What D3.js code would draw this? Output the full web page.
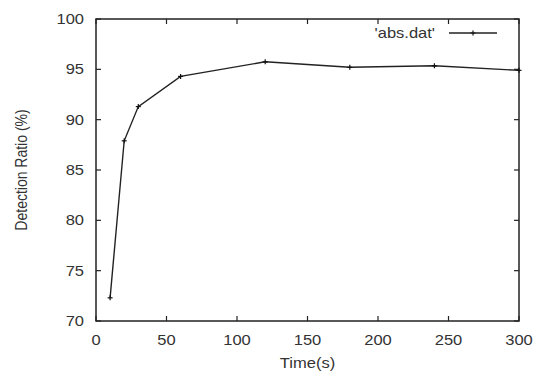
<!DOCTYPE html>
<html>
<head>
<meta charset="utf-8">
<script src="https://cdn.jsdelivr.net/npm/d3@7"></script>
<style>
  body { margin: 0; background: #fff; }
  text { font-family: "Liberation Sans", Arial, sans-serif; fill: #333; }
</style>
</head>
<body>
<svg id="chart" width="536" height="373"></svg>
<script>
// data
const times = [10, 20, 30, 60, 120, 180, 240, 300];
const ratios = [72.3, 87.9, 91.3, 94.3, 95.75, 95.2, 95.35, 94.9];
const xTicks = [0, 50, 100, 150, 200, 250, 300];
const yTicks = [70, 75, 80, 85, 90, 95, 100];
const seriesName = "'abs.dat'";

const svg = d3.select('#chart');
const pl = 96, pr = 519, pt = 19, pb = 321;
const sx = 1.18; // text in the picture is a bit wide

const x = d3.scaleLinear().domain([0, 300]).range([pl, pr]);
const y = d3.scaleLinear().domain([70, 100]).range([pb, pt]);

// ticks (inside, mirrored)
const tk = 5;
const g = svg.append('g').attr('stroke', '#222').attr('stroke-width', 1.2);
xTicks.forEach(v => {
  g.append('line').attr('x1', x(v)).attr('x2', x(v)).attr('y1', pb).attr('y2', pb - tk);
  g.append('line').attr('x1', x(v)).attr('x2', x(v)).attr('y1', pt).attr('y2', pt + tk);
});
yTicks.forEach(v => {
  g.append('line').attr('x1', pl).attr('x2', pl + tk).attr('y1', y(v)).attr('y2', y(v));
  g.append('line').attr('x1', pr).attr('x2', pr - tk).attr('y1', y(v)).attr('y2', y(v));
});

svg.append('rect')
  .attr('x', pl).attr('y', pt)
  .attr('width', pr - pl).attr('height', pb - pt)
  .attr('fill', 'none').attr('stroke', '#222').attr('stroke-width', 1.5);

// tick labels
svg.append('g').selectAll('text').data(xTicks).enter().append('text')
  .attr('transform', d => `translate(${x(d)},${pb + 24}) scale(${sx},1)`)
  .attr('text-anchor', 'middle').style('font-size', '14px')
  .text(d => d);

svg.append('g').selectAll('text').data(yTicks).enter().append('text')
  .attr('transform', d => `translate(${pl - 12},${y(d) + 5}) scale(${sx},1)`)
  .attr('text-anchor', 'end').style('font-size', '14px')
  .text(d => d);

// axis titles
svg.append('text')
  .attr('transform', `translate(${(pl + pr) / 2},368) scale(${sx},1)`)
  .attr('text-anchor', 'middle').style('font-size', '14px')
  .text('Time(s)');

svg.append('text')
  .attr('transform', `translate(27,${(pt + pb) / 2}) rotate(-90) scale(1,${sx})`)
  .attr('text-anchor', 'middle').style('font-size', '14px')
  .text('Detection Ratio (%)');

// series
const pts = times.map((t, i) => [t, ratios[i]]);
const line = d3.line().x(d => x(d[0])).y(d => y(d[1]));
svg.append('path').datum(pts)
  .attr('d', line).attr('fill', 'none')
  .attr('stroke', '#222').attr('stroke-width', 1.4);

const pm = 2.5;
const marks = svg.append('g').attr('stroke', '#111').attr('stroke-width', 1.2);
pts.forEach(d => {
  marks.append('line').attr('x1', x(d[0]) - pm).attr('x2', x(d[0]) + pm).attr('y1', y(d[1])).attr('y2', y(d[1]));
  marks.append('line').attr('x1', x(d[0])).attr('x2', x(d[0])).attr('y1', y(d[1]) - pm).attr('y2', y(d[1]) + pm);
});

// legend
const ly = 33;
svg.append('text')
  .attr('transform', `translate(435,${ly + 5}) scale(${sx},1)`)
  .attr('text-anchor', 'end').style('font-size', '14px')
  .text(seriesName);
svg.append('line').attr('x1', 449).attr('x2', 497).attr('y1', ly).attr('y2', ly)
  .attr('stroke', '#222').attr('stroke-width', 1.4);
marks.append('line').attr('x1', 473 - pm).attr('x2', 473 + pm).attr('y1', ly).attr('y2', ly);
marks.append('line').attr('x1', 473).attr('x2', 473).attr('y1', ly - pm).attr('y2', ly + pm);
</script>
</body>
</html>
